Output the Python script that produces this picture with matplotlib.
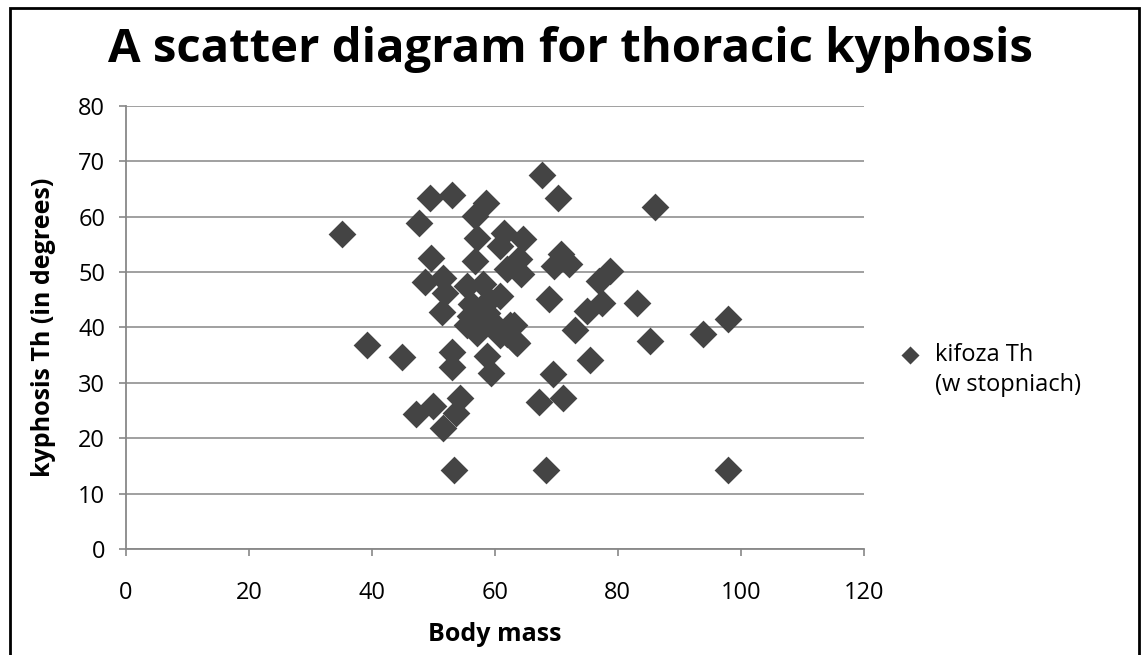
import matplotlib.pyplot as plt
from matplotlib.patches import Rectangle

# Body mass (x) and thoracic kyphosis (y)
body_mass = [35.1, 39.2, 44.9, 47.7, 49.5, 53.0, 67.7, 70.2, 86.1, 58.5,
             56.7, 57.1, 61.5, 64.5, 60.9, 49.6, 56.7, 63.9, 62.0, 64.2,
             70.7, 69.6, 72.0, 78.8, 76.9, 48.7, 51.5, 51.9, 55.4, 58.0,
             60.9, 51.4, 56.0, 58.8, 57.1, 55.5, 59.3, 62.5, 63.1, 63.6,
             68.8, 77.4, 75.0, 83.1, 73.1, 85.3, 93.8, 98.0, 75.5, 69.4,
             67.1, 71.1, 68.3, 98.0, 53.0, 53.0, 58.7, 59.3, 47.1, 50.0,
             54.3, 53.6, 51.6, 53.3, 56.1, 59.0, 60.9, 57.4, 63.4, 62.0]
kyphosis = [56.8, 36.8, 34.6, 58.9, 63.3, 63.9, 67.6, 63.3, 61.8, 62.4,
            60.2, 56.2, 57.1, 55.9, 54.7, 52.6, 52.0, 52.3, 50.5, 49.6,
            53.2, 51.1, 51.4, 50.2, 48.4, 48.3, 49.0, 46.3, 47.5, 47.8,
            45.7, 42.8, 42.0, 42.7, 39.0, 40.5, 41.1, 40.5, 40.5, 37.2,
            45.1, 44.5, 43.0, 44.5, 39.5, 37.5, 38.9, 41.6, 34.2, 31.6,
            26.6, 27.3, 14.2, 14.2, 35.5, 32.9, 34.8, 31.8, 24.3, 25.8,
            27.3, 24.6, 21.9, 14.3, 44.2, 45.0, 38.7, 41.8, 37.3, 38.8]

x_ticks = [0, 20, 40, 60, 80, 100, 120]
y_ticks = [0, 10, 20, 30, 40, 50, 60, 70, 80]

plt.rcParams['font.family'] = ['Open Sans', 'DejaVu Sans']

fig = plt.figure(figsize=(11.41, 6.55), dpi=100)
ax = fig.add_axes([0.1104, 0.1618, 0.6466, 0.6764])

ax.scatter(body_mass, kyphosis, marker='D', s=200, color='#444444',
           linewidths=0, zorder=3, label='kifoza Th')

ax.set_xlim(0, 120)
ax.set_ylim(0, 80)
ax.set_xticks(x_ticks)
ax.set_yticks(y_ticks)
ax.tick_params(axis='x', labelsize=17, length=5, color='#888888', width=1.2, pad=18)
ax.tick_params(axis='y', labelsize=17, length=5, color='#888888', width=1.2, pad=10)
ax.grid(True, axis='y', color='#999999', linewidth=1.3)
ax.set_axisbelow(True)
for s in ['top', 'right']:
    ax.spines[s].set_visible(False)
for s in ['left', 'bottom']:
    ax.spines[s].set_color('#888888')
    ax.spines[s].set_linewidth(1.3)

ax.set_xlabel('Body mass', fontsize=18, fontweight='bold', labelpad=12)
ax.set_ylabel('kyphosis Th (in degrees)', fontsize=18, fontweight='bold', labelpad=16)

fig.text(0.5, 0.925, 'A scatter diagram for thoracic kyphosis', ha='center', va='center',
         fontsize=34, fontweight='bold')

# legend: label wraps onto a second line, marker sits beside the first
leg = ax.legend(loc='center left', bbox_to_anchor=(1.002, 0.437), frameon=False,
                fontsize=17, handletextpad=0.05, markerscale=0.65)
fig.text(0.8195, 1 - 385 / 655, '(w stopniach)', fontsize=17, va='center', ha='left')

# frame around the picture
fig.patches.append(Rectangle((0.009, -0.01), 0.989, 0.998, transform=fig.transFigure,
                             fill=False, edgecolor='black', linewidth=2))

plt.savefig('out.png', dpi=100)
